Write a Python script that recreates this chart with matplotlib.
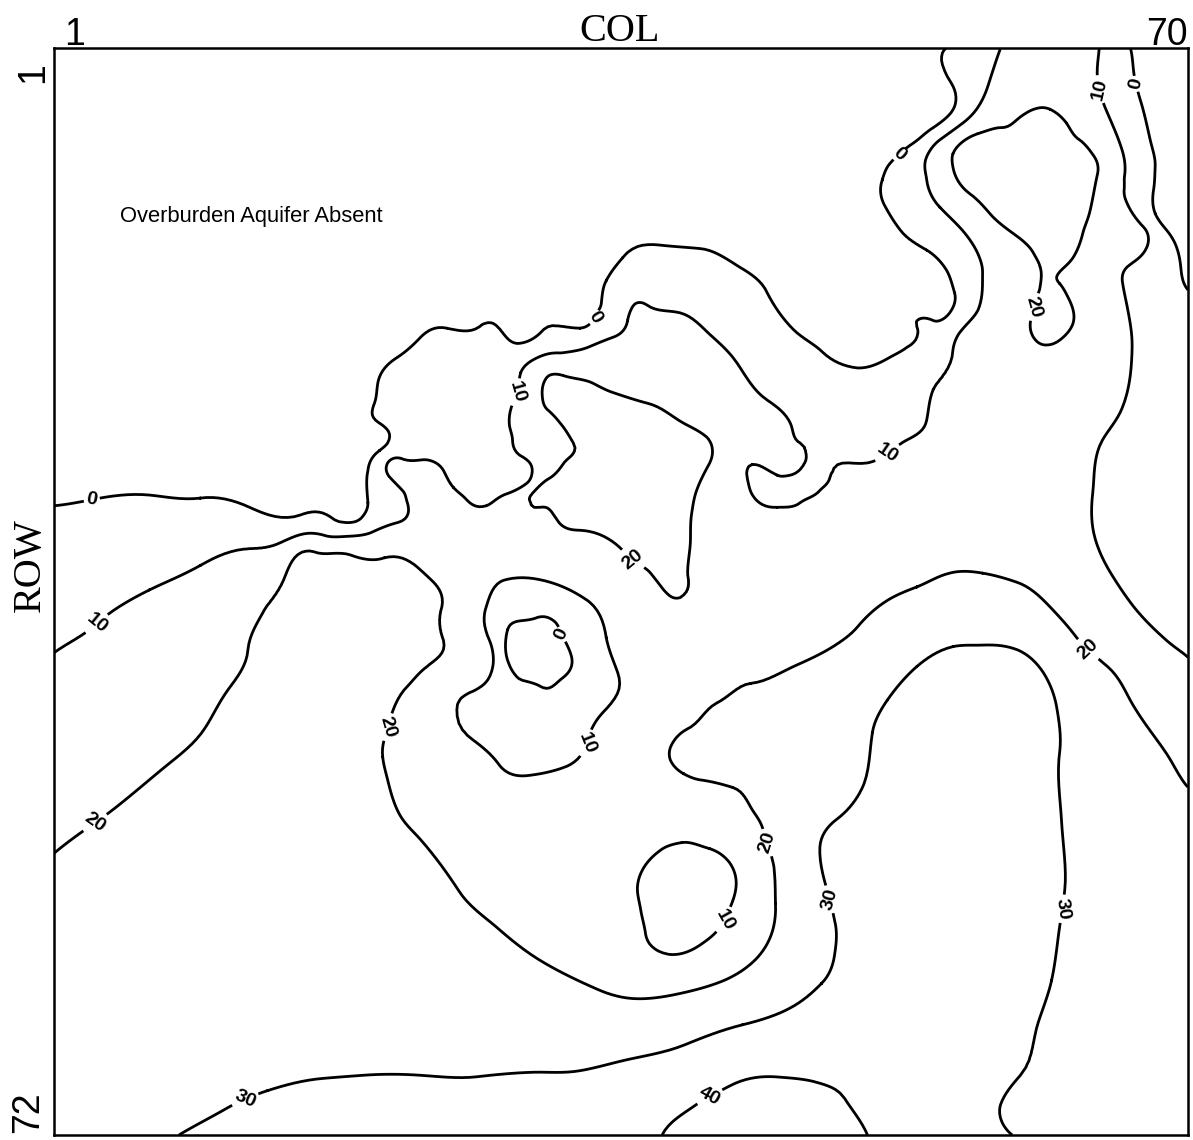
import matplotlib
matplotlib.use("Agg")
import matplotlib.pyplot as plt
import matplotlib.tri as mtri
import numpy as np

# overburden aquifer thickness as (col, row) spots
# spots lying on the drawn isolines
iso_0 = [
    (1.0, 30.9), (3.3, 30.5), (6.8, 30.2), (9.9, 30.4), (12.9, 31.0), (16.0, 31.5), (18.8, 32.0),
    (19.7, 31.7), (20.1, 30.7), (20.1, 28.6), (20.8, 27.3), (21.3, 26.8), (20.8, 25.5), (20.5, 24.2),
    (20.8, 22.5), (21.9, 21.2), (23.3, 19.9), (24.9, 19.3), (26.9, 19.2), (28.3, 19.6), (29.2, 20.3),
    (30.6, 19.6), (33.0, 19.3), (33.9, 18.6), (34.3, 17.7), (34.6, 16.2), (35.6, 14.7), (38.1, 13.9),
    (40.3, 14.1), (42.7, 15.3), (44.4, 17.0), (46.0, 19.4), (47.8, 20.9), (49.9, 21.9), (51.7, 21.3),
    (52.7, 20.7), (53.5, 19.2), (54.5, 18.8), (55.5, 18.3), (55.8, 17.0), (55.3, 15.5), (54.1, 14.2),
    (52.5, 12.9), (51.6, 11.4), (51.4, 9.6), (51.9, 8.5), (53.3, 7.2), (54.5, 6.2), (55.6, 5.2),
    (55.6, 3.3), (55.3, 1.0),
    (66.5, 1.0), (66.7, 2.6), (67.1, 4.4), (67.7, 7.0), (68.0, 8.8), (67.9, 10.3), (68.0, 11.8),
    (68.7, 12.9), (69.3, 14.0), (69.6, 15.7), (70.0, 16.8),
    (28.6, 39.0), (29.5, 38.4), (30.4, 38.2), (31.5, 38.5), (31.9, 39.3), (32.5, 40.8), (32.0, 42.1),
    (30.6, 42.7), (29.5, 42.3), (28.6, 41.0),
]
iso_10 = [
    (1.0, 40.5), (3.6, 38.6), (6.8, 36.4), (9.9, 34.8), (12.9, 33.7), (14.8, 33.3), (16.8, 32.7),
    (18.8, 32.9), (20.4, 32.6), (21.9, 32.0), (22.5, 30.7), (22.2, 29.9), (21.4, 29.0), (21.3, 28.1),
    (22.1, 27.8), (23.7, 27.9), (24.7, 28.6), (25.3, 29.7), (26.1, 30.5), (27.3, 30.9), (28.6, 30.1),
    (29.8, 29.4), (30.1, 28.6), (29.5, 27.7), (28.9, 26.6), (28.7, 25.5), (29.2, 23.5), (29.4, 22.2),
    (30.1, 21.4), (32.0, 20.9), (33.6, 20.5), (35.0, 19.9), (35.9, 18.8), (36.2, 17.9), (37.1, 17.8),
    (39.1, 18.3), (41.1, 19.9), (42.3, 21.2), (44.4, 24.0), (45.8, 25.5), (46.4, 26.8), (46.5, 28.4),
    (45.8, 28.9), (45.0, 28.9), (43.5, 28.2), (43.2, 29.2), (43.5, 30.2), (45.0, 31.0), (46.4, 30.7),
    (47.6, 29.9), (48.2, 29.1), (50.5, 28.1), (51.7, 27.5), (52.9, 26.6), (54.1, 25.3), (54.5, 23.3),
    (55.7, 20.7), (56.1, 19.6), (57.3, 17.9), (57.5, 15.7), (57.2, 14.4), (56.1, 12.7), (54.9, 11.4),
    (54.1, 9.6), (54.1, 8.1), (54.9, 7.0), (56.3, 5.9), (57.2, 4.9), (58.0, 2.9), (58.6, 1.0),
    (64.6, 1.0), (64.6, 3.7), (65.0, 5.0), (66.0, 7.7), (66.2, 10.9), (67.3, 12.7), (67.5, 14.0),
    (66.3, 15.3), (66.0, 16.2), (66.3, 17.9), (66.6, 20.5), (66.0, 24.5), (64.8, 26.6), (64.2, 30.1),
    (64.2, 32.3), (65.3, 35.3), (66.7, 37.5), (68.7, 39.7), (70.0, 40.8),
    (28.6, 35.7), (27.3, 37.5), (27.5, 39.7), (27.7, 41.4), (26.3, 43.1), (26.5, 46.2), (28.0, 47.7),
    (30.0, 48.5), (32.0, 48.0), (33.4, 46.4), (34.4, 44.4), (35.3, 41.8), (34.6, 39.5), (33.2, 36.9),
    (31.2, 35.9),
    (39.2, 52.9), (37.9, 53.4), (36.8, 54.7), (36.5, 55.8), (36.7, 57.3), (37.0, 58.9), (38.4, 60.2),
    (40.3, 59.6), (41.4, 58.6), (42.3, 56.7), (42.5, 55.8), (42.1, 54.2), (40.9, 53.3),
]
iso_20 = [
    (55.7, 7.9), (57.2, 6.6), (58.6, 6.2), (59.8, 5.5), (61.0, 4.9), (61.6, 5.0), (62.6, 5.9),
    (63.4, 7.0), (64.3, 8.1), (64.5, 9.2), (64.0, 11.8), (63.6, 13.1), (63.0, 14.7), (62.3, 15.5),
    (62.2, 16.4), (62.8, 17.5), (63.0, 19.0), (62.4, 19.9), (61.4, 20.4), (60.6, 19.9), (60.4, 19.0),
    (60.6, 17.9), (61.0, 16.6), (61.0, 15.3), (60.6, 14.4), (59.6, 13.3), (58.1, 12.0), (56.7, 10.5),
    (55.7, 8.8),
    (31.0, 22.5), (32.0, 22.4), (33.8, 22.9), (35.0, 23.5), (37.1, 24.2), (39.3, 25.5), (40.7, 26.4),
    (40.9, 28.1), (40.1, 29.9), (39.8, 31.4), (39.7, 33.6), (39.6, 35.7), (39.1, 36.9), (38.1, 36.4),
    (37.3, 35.3), (36.2, 34.4), (35.4, 33.6), (33.0, 32.5), (31.6, 31.8), (30.6, 31.0), (30.1, 30.1),
    (31.0, 29.2), (32.2, 27.9), (32.6, 26.8), (31.8, 25.5), (31.0, 24.6), (30.7, 23.5),
    (1.0, 53.6), (3.5, 51.6), (5.0, 50.4), (7.7, 48.0), (10.2, 45.4), (11.6, 42.9), (12.8, 40.3),
    (13.8, 37.7), (15.1, 35.4), (16.8, 33.9), (19.0, 34.1), (21.1, 34.3), (23.1, 34.9), (24.1, 35.9),
    (24.6, 37.5), (24.7, 39.7), (23.7, 41.4), (22.5, 42.7), (21.3, 45.4), (21.0, 47.3), (21.3, 48.8),
    (21.9, 50.8), (23.3, 52.7), (25.6, 56.0), (27.9, 58.4), (30.9, 60.8), (34.1, 62.5), (36.5, 63.1),
    (38.9, 62.8), (41.3, 62.1), (43.2, 61.0), (44.4, 59.5), (44.9, 56.9), (44.6, 53.6), (44.1, 51.9),
    (43.4, 50.6), (42.3, 49.3), (40.3, 48.8), (39.3, 48.4), (38.5, 47.5), (38.5, 46.7), (39.5, 45.5),
    (41.3, 43.8), (43.4, 42.5), (46.2, 41.3), (48.4, 40.1), (49.9, 38.8), (51.4, 37.3), (53.5, 36.2),
    (55.5, 35.3), (57.5, 35.3), (59.6, 35.9), (61.6, 37.5), (63.0, 39.2), (63.9, 40.3), (65.1, 41.4),
    (66.7, 44.0), (68.7, 47.1), (70.0, 49.3),
]
iso_30 = [
    (8.6, 72.0), (11.6, 70.2), (14.0, 69.1), (17.4, 68.3), (19.8, 68.1), (23.3, 68.1), (26.7, 68.2),
    (30.2, 67.9), (33.0, 67.8), (35.4, 67.2), (39.4, 66.1), (42.9, 64.8), (45.8, 63.7), (47.7, 62.1),
    (48.5, 60.2), (48.5, 58.0), (48.2, 56.6), (47.6, 53.2), (48.6, 51.4), (50.0, 49.7), (50.8, 45.7),
    (51.7, 43.6), (53.5, 41.4), (55.7, 40.1), (57.5, 40.0), (59.6, 40.3), (61.2, 41.8), (62.0, 44.0),
    (62.2, 46.9), (62.3, 51.4), (62.5, 56.0), (62.1, 59.1), (61.7, 61.9), (60.9, 64.6), (59.8, 68.1),
    (58.6, 70.0), (58.7, 71.2), (59.3, 72.0),
]
iso_40 = [
    (38.0, 72.0), (40.1, 70.0), (40.9, 69.5), (42.5, 68.6), (44.9, 68.2), (47.2, 68.5), (49.1, 69.6),
    (50.5, 72.0),
]

# spots read between the isolines: (col, row, thickness)
spots_absent = [
    (1, 1, -20), (12.9, 1, -20), (25.1, 1, -15), (37.3, 1, -10), (46.4, 1, -6), (52.5, 1, -3),
    (1, 10.9, -20), (12.9, 10.9, -18), (25.1, 10.9, -14), (37.3, 9.0, -7), (46.4, 9.0, -5),
    (49.4, 5.0, -3), (1, 20.7, -12), (9.9, 20.7, -12), (19.0, 16.8, -8), (28.1, 15.5, -6),
    (35.4, 11.6, -3), (40.3, 10.9, -3), (49.4, 16.2, -3), (53.2, 16.5, -2), (48.8, 11.6, -3),
    (1, 26.6, -5), (6.8, 26.9, -4), (12.9, 27.6, -4), (17.8, 27.3, -3), (17.2, 23.0, -5),
    (22.1, 17.5, -4), (26.9, 16.8, -3), (31.8, 16.8, -2.5), (1, 28.6, -2.5), (6.8, 28.6, -2),
    (12.9, 29.2, -2.5), (18.4, 29.2, -2), (17.8, 30.5, -1.5), (19.0, 25.3, -2.5),
    (19.0, 7.7, -16), (31.2, 6.4, -10), (6.8, 17.5, -14), (44.0, 5.0, -5),
    (70, 1, -4), (68.6, 1.8, -2), (69.2, 7.7, -2.5), (70, 5.7, -4), (70, 10.9, -3.5), (70, 14.2, -1.8),
    (30.6, 40.5, -4),
]
spots_0_10 = [
    (1, 35.7, 5), (6.8, 33.5, 5), (12.9, 32.4, 5), (17.8, 32.4, 5),
    (24.5, 23.3, 5), (26.9, 21.4, 5), (25.7, 26.0, 6), (23.3, 26.0, 5), (26.6, 25.3, 7),
    (28.1, 21.7, 6), (22.4, 24.0, 3), (26.9, 28.6, 7),
    (31.8, 20.1, 5), (35.0, 18.6, 5), (35.9, 16.4, 5), (38.2, 16.0, 5), (41.5, 17.5, 5),
    (44.0, 20.4, 5), (46.4, 23.0, 5), (48.8, 24.6, 5), (47.3, 29.2, 7), (44.6, 29.9, 8),
    (51.6, 24.3, 5), (53.6, 22.2, 5), (55.2, 19.7, 4), (56.5, 16.8, 5), (55.6, 13.9, 5),
    (53.2, 10.9, 5), (53.1, 8.8, 5), (56.7, 3.1, 5), (56.9, 1, 5),
    (65.6, 1.8, 5), (66.0, 4.7, 5), (66.9, 7.5, 5), (67.1, 10.6, 5), (68.4, 13.9, 5), (68.0, 16.8, 5),
    (70, 19.4, 3), (70, 24.0, 5), (70, 29.2, 6), (70, 34.4, 7), (70, 38.4, 8.5),
    (68.3, 24.0, 6), (67.7, 29.2, 6), (67.4, 33.1, 7), (68.3, 37.1, 7.5),
    (28.4, 37.4, 5), (33.3, 38.7, 5), (33.8, 42.6, 5), (30.6, 45.6, 5), (27.8, 44.4, 5),
    (28.1, 40.5, 5), (39.7, 56.3, 7),
]
spots_10_20 = [
    (1, 46.9, 15), (6.8, 43.1, 15), (12.3, 36.4, 15), (17.2, 33.5, 16), (20.4, 33.5, 15),
    (24.5, 32.5, 15), (28.1, 33.1, 14), (30.1, 23.0, 15), (31.5, 21.6, 15), (34.2, 21.9, 15),
    (37.0, 20.7, 15), (41.2, 23.3, 15), (42.7, 26.6, 15), (41.8, 29.2, 15), (42.1, 32.5, 15),
    (44.0, 34.4, 14), (47.6, 34.4, 14), (49.4, 32.5, 13), (52.5, 30.5, 13), (55.5, 28.6, 13),
    (58.6, 25.3, 13), (60.4, 22.7, 16), (58.9, 18.8, 15), (58.9, 14.5, 15), (56.1, 11.3, 15),
    (54.9, 8.6, 15), (58.4, 4.6, 15), (61.3, 2.1, 15), (61.6, 1, 14), (63.9, 5.0, 15),
    (65.3, 9.6, 15), (65.4, 13.9, 15), (64.5, 17.8, 15), (63.4, 21.4, 16), (63.4, 25.3, 13),
    (61.6, 28.0, 13), (62.2, 33.8, 14), (64.6, 38.4, 15), (68.3, 42.9, 15), (70, 44.9, 15),
    (52.5, 34.4, 17), (37.3, 40.3, 14), (37.0, 44.9, 15), (35.4, 50.1, 13), (33.0, 54.7, 14),
    (27.5, 52.1, 15), (23.9, 48.2, 15), (24.5, 43.1, 15), (26.0, 38.7, 15), (26.0, 34.4, 14),
    (40.3, 50.9, 15), (43.7, 55.3, 15), (39.7, 61.4, 15), (34.8, 59.9, 15), (34.2, 56.7, 13),
    (9.9, 39.7, 15), (31.8, 50.8, 13),
    (34.2, 25.3, 23), (36.7, 29.2, 25), (35.4, 31.2, 24), (38.2, 33.5, 22), (38.5, 28.0, 23),
    (33.0, 29.2, 22), (61.0, 9.6, 24), (62.2, 12.9, 23), (61.6, 17.5, 21), (58.6, 9.0, 22),
]
spots_20_up = [
    (1, 63.2, 24), (1, 72, 27), (5.0, 72, 28.5), (6.8, 59.9, 24.5), (12.9, 56.7, 24.5),
    (9.9, 53.4, 24), (12.9, 50.1, 23.5), (12.9, 46.9, 22.5), (16.5, 38.0, 22), (20.4, 37.7, 22),
    (18.4, 39.7, 23), (16.0, 43.6, 24), (17.8, 50.1, 25), (19.0, 56.5, 25),
    (16.0, 63.2, 26), (22.1, 63.2, 25.5), (31.2, 64.5, 25), (37.3, 64.8, 25), (44.3, 62.5, 25),
    (46.7, 58.9, 25), (46.1, 53.7, 25), (46.4, 50.1, 25), (48.2, 44.9, 25.5), (51.6, 40.3, 25),
    (56.1, 37.7, 25), (60.7, 39.3, 26), (64.0, 43.9, 25), (65.3, 49.5, 25), (67.7, 55.3, 25),
    (70, 50.1, 21), (70, 53.4, 23), (70, 59.9, 24.5), (70, 66.5, 25), (70, 72, 25),
    (64.6, 63.2, 26.5), (64.6, 72, 26),
    (52.5, 53.4, 34), (55.5, 46.9, 34), (58.6, 43.6, 33), (59.2, 53.4, 33), (55.5, 59.9, 35),
    (52.5, 66.5, 36), (56.1, 69.7, 33), (54.9, 72, 35), (51.9, 48.8, 32), (46.7, 66.1, 35),
    (40.0, 67.95, 35), (35.4, 69.7, 34.5), (34.2, 72, 35), (22.1, 72, 33), (12.9, 72, 31.5),
    (22.1, 70.0, 32), (16.0, 70.4, 31.5), (50.7, 63.2, 35),
    (44.3, 71.0, 43), (44.3, 72, 44),
]

levels = [0, 10, 20, 30, 40]
label_spots = [
    (3.3, 30.5), (3.6, 38.6), (3.5, 51.6), (12.6, 69.6), (40.9, 69.5), (62.2, 57.2), (48.2, 56.6),
    (44.4, 52.9), (41.8, 57.95), (33.4, 46.4), (31.9, 39.3), (21.3, 45.35), (36.2, 34.4),
    (29.2, 23.5), (33.9, 18.6), (51.7, 27.45), (63.9, 40.3), (60.6, 17.9), (52.5, 8.0),
    (64.6, 3.7), (66.6, 3.4),
]

# gather everything into one scattered set
cols, rows, vals = [], [], []
for value, pts in zip(levels, [iso_0, iso_10, iso_20, iso_30, iso_40]):
    for c, r in pts:
        cols.append(c)
        rows.append(r)
        vals.append(value)
for group in [spots_absent, spots_0_10, spots_10_20, spots_20_up]:
    for c, r, v in group:
        cols.append(c)
        rows.append(r)
        vals.append(v)

tri = mtri.Triangulation(np.array(cols, float), np.array(rows, float))
refiner = mtri.UniformTriRefiner(tri)
tri_fine, z_fine = refiner.refine_field(np.array(vals, float), subdiv=3)

fig = plt.figure(figsize=(11.93, 11.40), dpi=100)
ax = fig.add_axes([54 / 1193, 5 / 1140, 1134 / 1193, 1087 / 1140])

cs = ax.tricontour(tri_fine, z_fine, levels=levels, colors='black', linewidths=2.0)
labels = ax.clabel(cs, fmt='%d', fontsize=14, inline=True, inline_spacing=2, manual=label_spots)
for t in labels:
    t.set_fontweight('bold')
    t.set_family('Liberation Sans')

ax.text(5.0, 12.0, 'Overburden Aquifer Absent', fontsize=15.8, family='Liberation Sans',
        ha='left', va='center')

ax.set_xlim(1, 70)
ax.set_ylim(72, 1)
ax.set_xticks([])
ax.set_yticks([])
for sp in ax.spines.values():
    sp.set_linewidth(1.8)

# axis captions drawn around the frame
fig.text(75 / 1193, 1 - 45 / 1140, '1', fontsize=27, family='Liberation Sans', ha='center', va='baseline')
fig.text(1188 / 1193, 1 - 45 / 1140, '70', fontsize=27, family='Liberation Sans', ha='right', va='baseline')
fig.text(620 / 1193, 1 - 41 / 1140, 'COL', fontsize=29, family='Liberation Serif', ha='center', va='baseline')
fig.text(33 / 1193, 1 - 73 / 1140, '1', fontsize=27, family='Liberation Sans', ha='center', va='center', rotation=90)
fig.text(30 / 1193, 1 - 565 / 1140, 'ROW', fontsize=29, family='Liberation Serif', ha='center', va='center', rotation=90)
fig.text(28 / 1193, 1 - 1112 / 1140, '72', fontsize=27, family='Liberation Sans', ha='center', va='center', rotation=90)

fig.savefig('out.png', dpi=100)
